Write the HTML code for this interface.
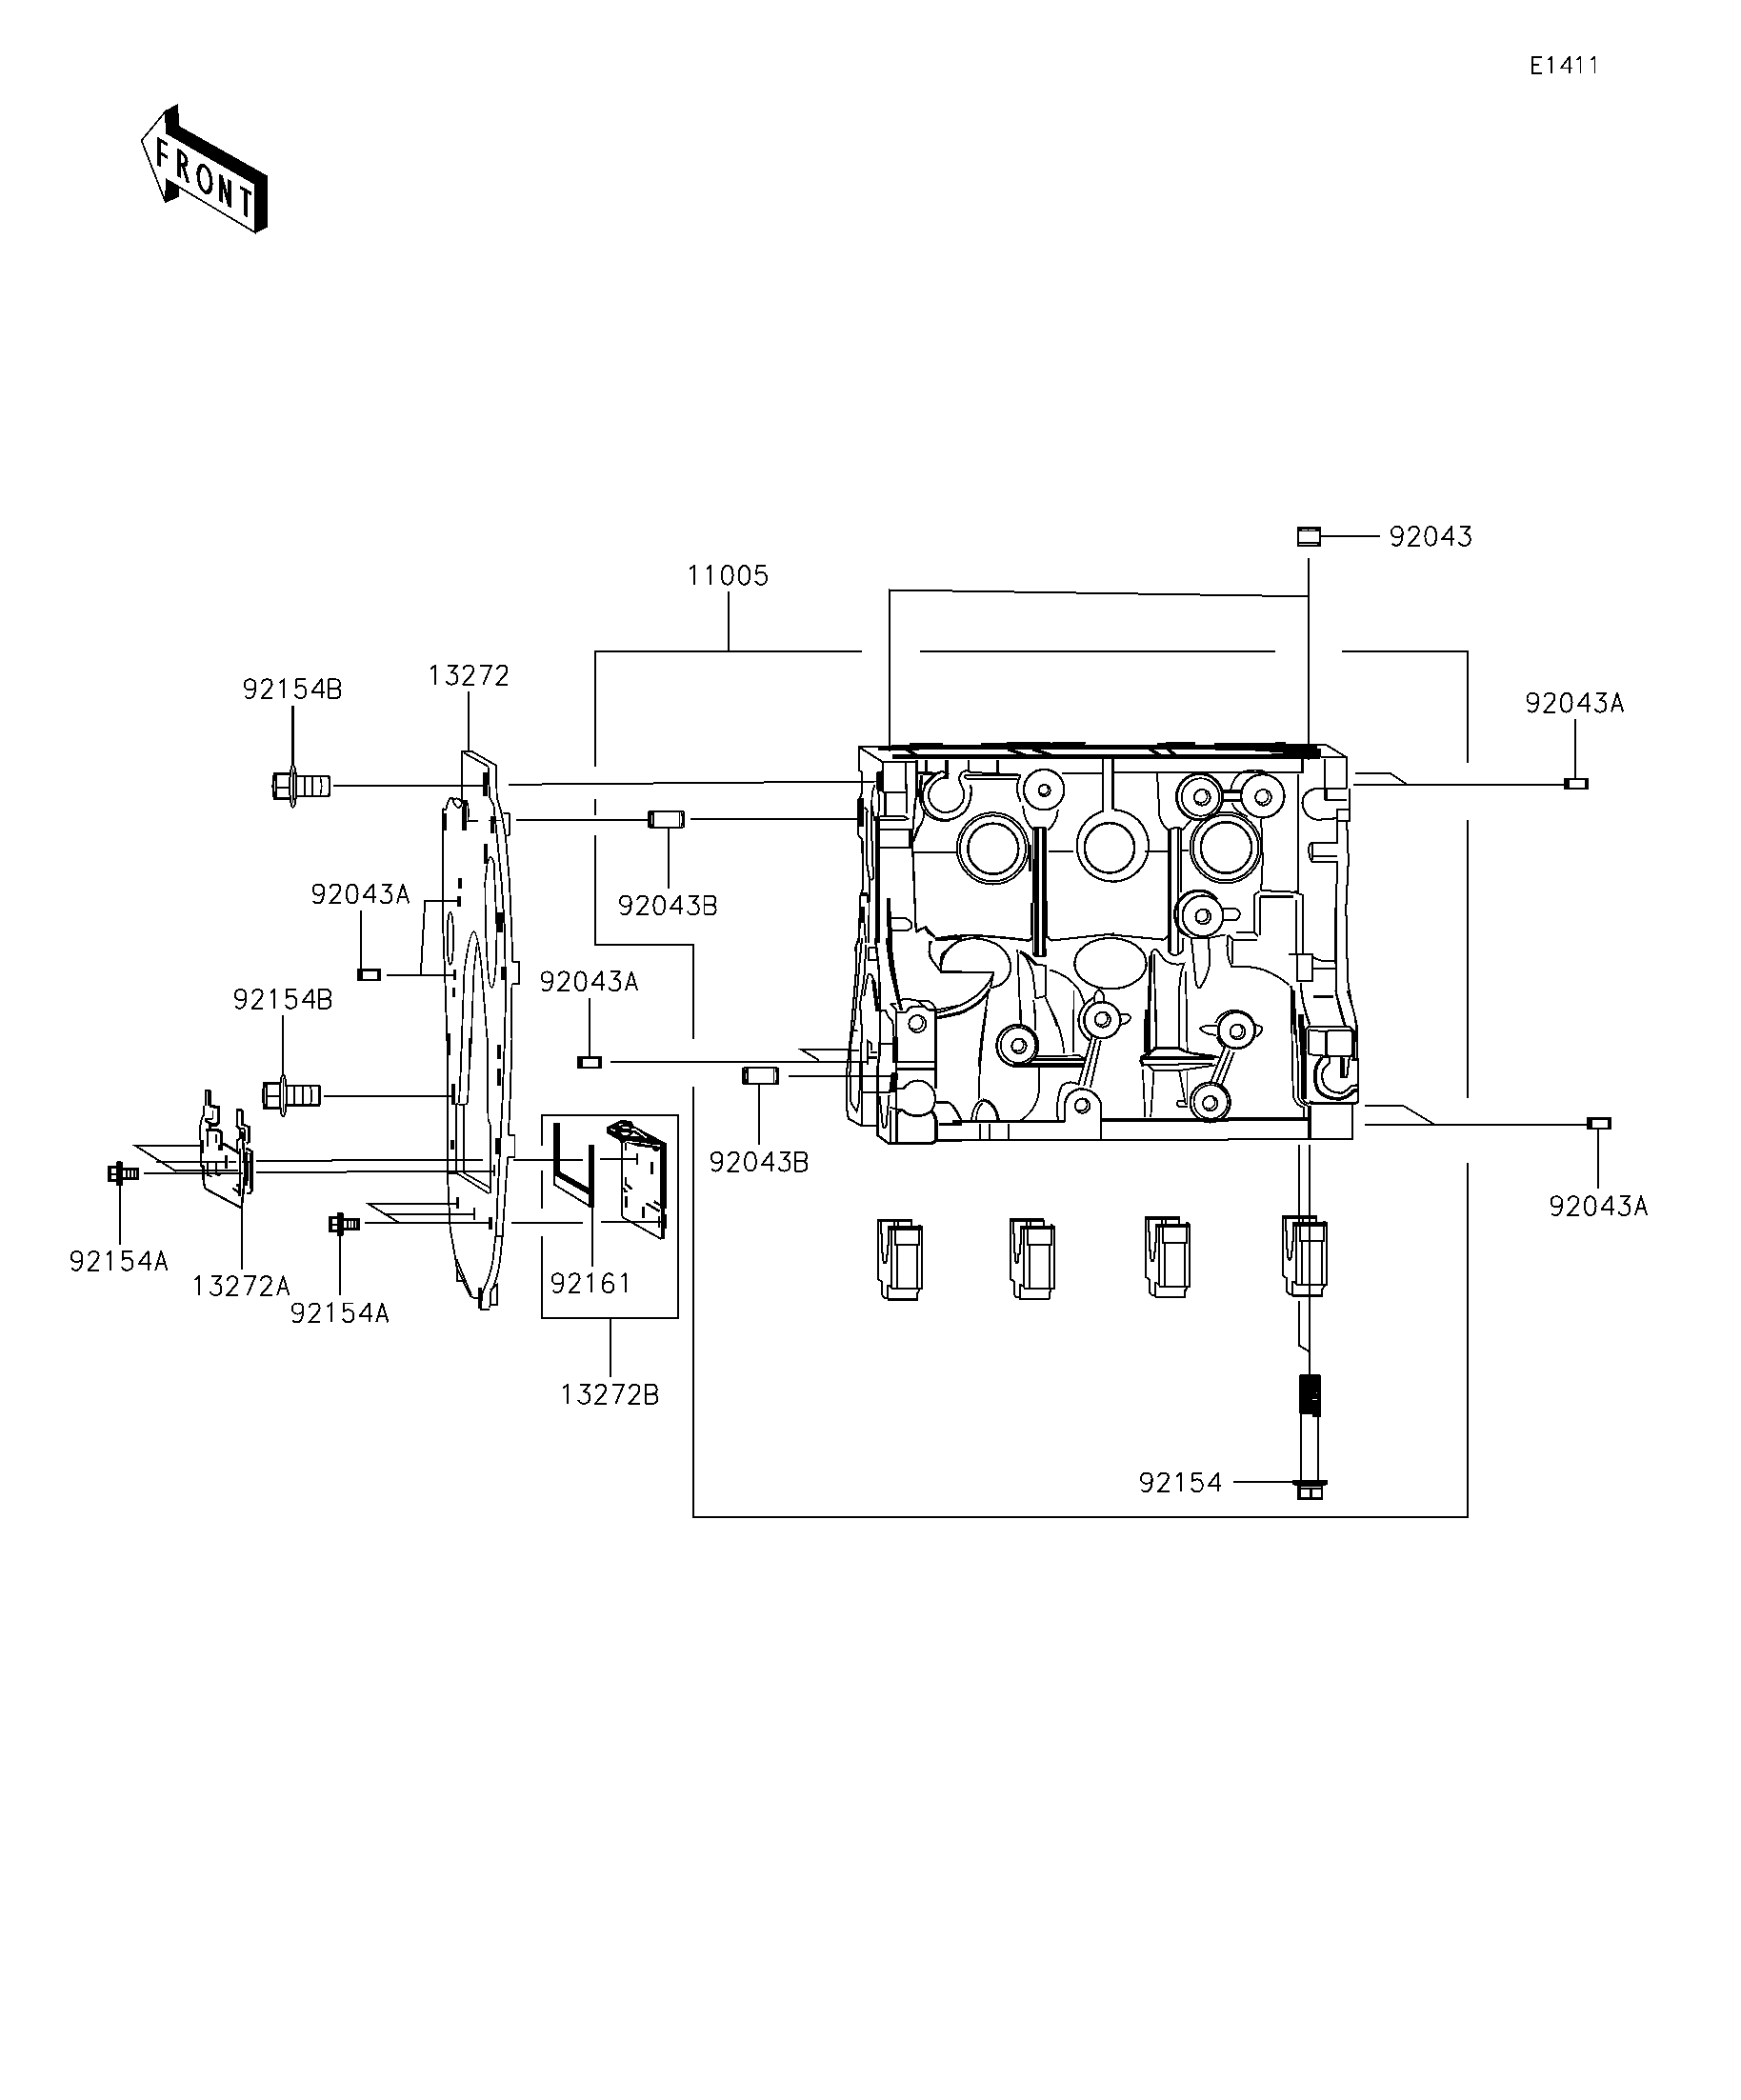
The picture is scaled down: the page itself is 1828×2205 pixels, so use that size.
<!DOCTYPE html>
<html><head><meta charset="utf-8"><title>E1411</title>
<style>html,body{margin:0;padding:0;background:#fff}body{width:1828px;height:2205px;overflow:hidden;font-family:"Liberation Sans",sans-serif}svg{display:block}</style>
</head><body>
<svg width="1828" height="2205" viewBox="0 0 1828 2205" fill="none" stroke="#000" stroke-width="2" stroke-linecap="butt" stroke-linejoin="miter" shape-rendering="crispEdges">
<rect x="0" y="0" width="1828" height="2205" fill="#fff" stroke="none"/>
<g stroke-width="2.05" stroke-linejoin="round"><path transform="translate(1608.9 59.8) scale(0.85)" d="M12,0L0,0L0,20.4L12,20.4M0,9.8L8.5,9.8"/><path transform="translate(1623.93 59.8) scale(0.85)" d="M1.8,3.9L6.4,0L6.4,20.4"/><path transform="translate(1638.96 59.8) scale(0.85)" d="M10.4,20.4L10.4,0L0,13.8L13.6,13.8"/><path transform="translate(1653.99 59.8) scale(0.85)" d="M1.8,3.9L6.4,0L6.4,20.4"/><path transform="translate(1669.02 59.8) scale(0.85)" d="M1.8,3.9L6.4,0L6.4,20.4"/></g>
<g stroke-width="2.05" stroke-linejoin="round"><path transform="translate(1461 553) scale(0.97)" d="M12,6C12,2.5 9.5,0 6,0C2.5,0 0,2.5 0,5.8C0,9 2.5,11.5 6,11.5C9.5,11.5 12,9 12,6C12,13 10.5,20.4 5,20.4C3,20.4 1.5,19.5 0.8,18"/><path transform="translate(1478.7 553) scale(0.97)" d="M0.5,4.6C1,1.6 3,0 6,0C9.5,0 11.5,2 11.5,5C11.5,8 9,10.5 0,20.4L12.3,20.4"/><path transform="translate(1496.4 553) scale(0.97)" d="M6,0C2.2,0 0,4 0,10.2C0,16.4 2.2,20.4 6,20.4C9.8,20.4 12,16.4 12,10.2C12,4 9.8,0 6,0Z"/><path transform="translate(1514.1 553) scale(0.97)" d="M10.4,20.4L10.4,0L0,13.8L13.6,13.8"/><path transform="translate(1531.8 553) scale(0.97)" d="M1.5,0L12,0L6,7.6C10,7.6 12.3,10 12.3,14C12.3,18 10,20.4 6,20.4C3,20.4 1,19 0,16.5"/></g>
<g stroke-width="2.05" stroke-linejoin="round"><path transform="translate(722.53 594) scale(0.97)" d="M1.8,3.9L6.4,0L6.4,20.4"/><path transform="translate(740.23 594) scale(0.97)" d="M1.8,3.9L6.4,0L6.4,20.4"/><path transform="translate(757.93 594) scale(0.97)" d="M6,0C2.2,0 0,4 0,10.2C0,16.4 2.2,20.4 6,20.4C9.8,20.4 12,16.4 12,10.2C12,4 9.8,0 6,0Z"/><path transform="translate(775.63 594) scale(0.97)" d="M6,0C2.2,0 0,4 0,10.2C0,16.4 2.2,20.4 6,20.4C9.8,20.4 12,16.4 12,10.2C12,4 9.8,0 6,0Z"/><path transform="translate(793.33 594) scale(0.97)" d="M11.5,0L1.5,0L0.8,9C2,7.8 4,7 6,7C9.5,7 12,9.5 12,13.6C12,17.6 9.5,20.4 6,20.4C3,20.4 1,19 0,16.5"/></g>
<g stroke-width="2.05" stroke-linejoin="round"><path transform="translate(256.75 713.3) scale(0.97)" d="M12,6C12,2.5 9.5,0 6,0C2.5,0 0,2.5 0,5.8C0,9 2.5,11.5 6,11.5C9.5,11.5 12,9 12,6C12,13 10.5,20.4 5,20.4C3,20.4 1.5,19.5 0.8,18"/><path transform="translate(274.45 713.3) scale(0.97)" d="M0.5,4.6C1,1.6 3,0 6,0C9.5,0 11.5,2 11.5,5C11.5,8 9,10.5 0,20.4L12.3,20.4"/><path transform="translate(292.15 713.3) scale(0.97)" d="M1.8,3.9L6.4,0L6.4,20.4"/><path transform="translate(309.85 713.3) scale(0.97)" d="M11.5,0L1.5,0L0.8,9C2,7.8 4,7 6,7C9.5,7 12,9.5 12,13.6C12,17.6 9.5,20.4 6,20.4C3,20.4 1,19 0,16.5"/><path transform="translate(327.55 713.3) scale(0.97)" d="M10.4,20.4L10.4,0L0,13.8L13.6,13.8"/><path transform="translate(345.25 713.3) scale(0.97)" d="M0,20.4L0,0L7,0C10.5,0 12,2 12,5C12,8 10.5,9.8 7,9.8L0,9.8M7,9.8C11,9.8 12.5,12 12.5,15C12.5,18.5 11,20.4 7,20.4L0,20.4"/></g>
<g stroke-width="2.05" stroke-linejoin="round"><path transform="translate(450.58 698.8) scale(0.97)" d="M1.8,3.9L6.4,0L6.4,20.4"/><path transform="translate(468.28 698.8) scale(0.97)" d="M1.5,0L12,0L6,7.6C10,7.6 12.3,10 12.3,14C12.3,18 10,20.4 6,20.4C3,20.4 1,19 0,16.5"/><path transform="translate(485.98 698.8) scale(0.97)" d="M0.5,4.6C1,1.6 3,0 6,0C9.5,0 11.5,2 11.5,5C11.5,8 9,10.5 0,20.4L12.3,20.4"/><path transform="translate(503.68 698.8) scale(0.97)" d="M0,0L12.5,0L4,20.4"/><path transform="translate(521.38 698.8) scale(0.97)" d="M0.5,4.6C1,1.6 3,0 6,0C9.5,0 11.5,2 11.5,5C11.5,8 9,10.5 0,20.4L12.3,20.4"/></g>
<g stroke-width="2.05" stroke-linejoin="round"><path transform="translate(1603.5 727.8) scale(0.97)" d="M12,6C12,2.5 9.5,0 6,0C2.5,0 0,2.5 0,5.8C0,9 2.5,11.5 6,11.5C9.5,11.5 12,9 12,6C12,13 10.5,20.4 5,20.4C3,20.4 1.5,19.5 0.8,18"/><path transform="translate(1621.2 727.8) scale(0.97)" d="M0.5,4.6C1,1.6 3,0 6,0C9.5,0 11.5,2 11.5,5C11.5,8 9,10.5 0,20.4L12.3,20.4"/><path transform="translate(1638.9 727.8) scale(0.97)" d="M6,0C2.2,0 0,4 0,10.2C0,16.4 2.2,20.4 6,20.4C9.8,20.4 12,16.4 12,10.2C12,4 9.8,0 6,0Z"/><path transform="translate(1656.6 727.8) scale(0.97)" d="M10.4,20.4L10.4,0L0,13.8L13.6,13.8"/><path transform="translate(1674.3 727.8) scale(0.97)" d="M1.5,0L12,0L6,7.6C10,7.6 12.3,10 12.3,14C12.3,18 10,20.4 6,20.4C3,20.4 1,19 0,16.5"/><path transform="translate(1692 727.8) scale(0.97)" d="M0,20.4L6.2,0L12.5,20.4M2.2,13.6L10.3,13.6"/></g>
<g stroke-width="2.05" stroke-linejoin="round"><path transform="translate(328.5 928.6) scale(0.97)" d="M12,6C12,2.5 9.5,0 6,0C2.5,0 0,2.5 0,5.8C0,9 2.5,11.5 6,11.5C9.5,11.5 12,9 12,6C12,13 10.5,20.4 5,20.4C3,20.4 1.5,19.5 0.8,18"/><path transform="translate(346.2 928.6) scale(0.97)" d="M0.5,4.6C1,1.6 3,0 6,0C9.5,0 11.5,2 11.5,5C11.5,8 9,10.5 0,20.4L12.3,20.4"/><path transform="translate(363.9 928.6) scale(0.97)" d="M6,0C2.2,0 0,4 0,10.2C0,16.4 2.2,20.4 6,20.4C9.8,20.4 12,16.4 12,10.2C12,4 9.8,0 6,0Z"/><path transform="translate(381.6 928.6) scale(0.97)" d="M10.4,20.4L10.4,0L0,13.8L13.6,13.8"/><path transform="translate(399.3 928.6) scale(0.97)" d="M1.5,0L12,0L6,7.6C10,7.6 12.3,10 12.3,14C12.3,18 10,20.4 6,20.4C3,20.4 1,19 0,16.5"/><path transform="translate(417 928.6) scale(0.97)" d="M0,20.4L6.2,0L12.5,20.4M2.2,13.6L10.3,13.6"/></g>
<g stroke-width="2.05" stroke-linejoin="round"><path transform="translate(651 940.6) scale(0.97)" d="M12,6C12,2.5 9.5,0 6,0C2.5,0 0,2.5 0,5.8C0,9 2.5,11.5 6,11.5C9.5,11.5 12,9 12,6C12,13 10.5,20.4 5,20.4C3,20.4 1.5,19.5 0.8,18"/><path transform="translate(668.7 940.6) scale(0.97)" d="M0.5,4.6C1,1.6 3,0 6,0C9.5,0 11.5,2 11.5,5C11.5,8 9,10.5 0,20.4L12.3,20.4"/><path transform="translate(686.4 940.6) scale(0.97)" d="M6,0C2.2,0 0,4 0,10.2C0,16.4 2.2,20.4 6,20.4C9.8,20.4 12,16.4 12,10.2C12,4 9.8,0 6,0Z"/><path transform="translate(704.1 940.6) scale(0.97)" d="M10.4,20.4L10.4,0L0,13.8L13.6,13.8"/><path transform="translate(721.8 940.6) scale(0.97)" d="M1.5,0L12,0L6,7.6C10,7.6 12.3,10 12.3,14C12.3,18 10,20.4 6,20.4C3,20.4 1,19 0,16.5"/><path transform="translate(739.5 940.6) scale(0.97)" d="M0,20.4L0,0L7,0C10.5,0 12,2 12,5C12,8 10.5,9.8 7,9.8L0,9.8M7,9.8C11,9.8 12.5,12 12.5,15C12.5,18.5 11,20.4 7,20.4L0,20.4"/></g>
<g stroke-width="2.05" stroke-linejoin="round"><path transform="translate(568.5 1020.4) scale(0.97)" d="M12,6C12,2.5 9.5,0 6,0C2.5,0 0,2.5 0,5.8C0,9 2.5,11.5 6,11.5C9.5,11.5 12,9 12,6C12,13 10.5,20.4 5,20.4C3,20.4 1.5,19.5 0.8,18"/><path transform="translate(586.2 1020.4) scale(0.97)" d="M0.5,4.6C1,1.6 3,0 6,0C9.5,0 11.5,2 11.5,5C11.5,8 9,10.5 0,20.4L12.3,20.4"/><path transform="translate(603.9 1020.4) scale(0.97)" d="M6,0C2.2,0 0,4 0,10.2C0,16.4 2.2,20.4 6,20.4C9.8,20.4 12,16.4 12,10.2C12,4 9.8,0 6,0Z"/><path transform="translate(621.6 1020.4) scale(0.97)" d="M10.4,20.4L10.4,0L0,13.8L13.6,13.8"/><path transform="translate(639.3 1020.4) scale(0.97)" d="M1.5,0L12,0L6,7.6C10,7.6 12.3,10 12.3,14C12.3,18 10,20.4 6,20.4C3,20.4 1,19 0,16.5"/><path transform="translate(657 1020.4) scale(0.97)" d="M0,20.4L6.2,0L12.5,20.4M2.2,13.6L10.3,13.6"/></g>
<g stroke-width="2.05" stroke-linejoin="round"><path transform="translate(246.75 1039) scale(0.97)" d="M12,6C12,2.5 9.5,0 6,0C2.5,0 0,2.5 0,5.8C0,9 2.5,11.5 6,11.5C9.5,11.5 12,9 12,6C12,13 10.5,20.4 5,20.4C3,20.4 1.5,19.5 0.8,18"/><path transform="translate(264.45 1039) scale(0.97)" d="M0.5,4.6C1,1.6 3,0 6,0C9.5,0 11.5,2 11.5,5C11.5,8 9,10.5 0,20.4L12.3,20.4"/><path transform="translate(282.15 1039) scale(0.97)" d="M1.8,3.9L6.4,0L6.4,20.4"/><path transform="translate(299.85 1039) scale(0.97)" d="M11.5,0L1.5,0L0.8,9C2,7.8 4,7 6,7C9.5,7 12,9.5 12,13.6C12,17.6 9.5,20.4 6,20.4C3,20.4 1,19 0,16.5"/><path transform="translate(317.55 1039) scale(0.97)" d="M10.4,20.4L10.4,0L0,13.8L13.6,13.8"/><path transform="translate(335.25 1039) scale(0.97)" d="M0,20.4L0,0L7,0C10.5,0 12,2 12,5C12,8 10.5,9.8 7,9.8L0,9.8M7,9.8C11,9.8 12.5,12 12.5,15C12.5,18.5 11,20.4 7,20.4L0,20.4"/></g>
<g stroke-width="2.05" stroke-linejoin="round"><path transform="translate(746.75 1209.8) scale(0.97)" d="M12,6C12,2.5 9.5,0 6,0C2.5,0 0,2.5 0,5.8C0,9 2.5,11.5 6,11.5C9.5,11.5 12,9 12,6C12,13 10.5,20.4 5,20.4C3,20.4 1.5,19.5 0.8,18"/><path transform="translate(764.45 1209.8) scale(0.97)" d="M0.5,4.6C1,1.6 3,0 6,0C9.5,0 11.5,2 11.5,5C11.5,8 9,10.5 0,20.4L12.3,20.4"/><path transform="translate(782.15 1209.8) scale(0.97)" d="M6,0C2.2,0 0,4 0,10.2C0,16.4 2.2,20.4 6,20.4C9.8,20.4 12,16.4 12,10.2C12,4 9.8,0 6,0Z"/><path transform="translate(799.85 1209.8) scale(0.97)" d="M10.4,20.4L10.4,0L0,13.8L13.6,13.8"/><path transform="translate(817.55 1209.8) scale(0.97)" d="M1.5,0L12,0L6,7.6C10,7.6 12.3,10 12.3,14C12.3,18 10,20.4 6,20.4C3,20.4 1,19 0,16.5"/><path transform="translate(835.25 1209.8) scale(0.97)" d="M0,20.4L0,0L7,0C10.5,0 12,2 12,5C12,8 10.5,9.8 7,9.8L0,9.8M7,9.8C11,9.8 12.5,12 12.5,15C12.5,18.5 11,20.4 7,20.4L0,20.4"/></g>
<g stroke-width="2.05" stroke-linejoin="round"><path transform="translate(1628.5 1256.2) scale(0.97)" d="M12,6C12,2.5 9.5,0 6,0C2.5,0 0,2.5 0,5.8C0,9 2.5,11.5 6,11.5C9.5,11.5 12,9 12,6C12,13 10.5,20.4 5,20.4C3,20.4 1.5,19.5 0.8,18"/><path transform="translate(1646.2 1256.2) scale(0.97)" d="M0.5,4.6C1,1.6 3,0 6,0C9.5,0 11.5,2 11.5,5C11.5,8 9,10.5 0,20.4L12.3,20.4"/><path transform="translate(1663.9 1256.2) scale(0.97)" d="M6,0C2.2,0 0,4 0,10.2C0,16.4 2.2,20.4 6,20.4C9.8,20.4 12,16.4 12,10.2C12,4 9.8,0 6,0Z"/><path transform="translate(1681.6 1256.2) scale(0.97)" d="M10.4,20.4L10.4,0L0,13.8L13.6,13.8"/><path transform="translate(1699.3 1256.2) scale(0.97)" d="M1.5,0L12,0L6,7.6C10,7.6 12.3,10 12.3,14C12.3,18 10,20.4 6,20.4C3,20.4 1,19 0,16.5"/><path transform="translate(1717 1256.2) scale(0.97)" d="M0,20.4L6.2,0L12.5,20.4M2.2,13.6L10.3,13.6"/></g>
<g stroke-width="2.05" stroke-linejoin="round"><path transform="translate(74.75 1314) scale(0.97)" d="M12,6C12,2.5 9.5,0 6,0C2.5,0 0,2.5 0,5.8C0,9 2.5,11.5 6,11.5C9.5,11.5 12,9 12,6C12,13 10.5,20.4 5,20.4C3,20.4 1.5,19.5 0.8,18"/><path transform="translate(92.45 1314) scale(0.97)" d="M0.5,4.6C1,1.6 3,0 6,0C9.5,0 11.5,2 11.5,5C11.5,8 9,10.5 0,20.4L12.3,20.4"/><path transform="translate(110.15 1314) scale(0.97)" d="M1.8,3.9L6.4,0L6.4,20.4"/><path transform="translate(127.85 1314) scale(0.97)" d="M11.5,0L1.5,0L0.8,9C2,7.8 4,7 6,7C9.5,7 12,9.5 12,13.6C12,17.6 9.5,20.4 6,20.4C3,20.4 1,19 0,16.5"/><path transform="translate(145.55 1314) scale(0.97)" d="M10.4,20.4L10.4,0L0,13.8L13.6,13.8"/><path transform="translate(163.25 1314) scale(0.97)" d="M0,20.4L6.2,0L12.5,20.4M2.2,13.6L10.3,13.6"/></g>
<g stroke-width="2.05" stroke-linejoin="round"><path transform="translate(202.78 1340.2) scale(0.97)" d="M1.8,3.9L6.4,0L6.4,20.4"/><path transform="translate(220.48 1340.2) scale(0.97)" d="M1.5,0L12,0L6,7.6C10,7.6 12.3,10 12.3,14C12.3,18 10,20.4 6,20.4C3,20.4 1,19 0,16.5"/><path transform="translate(238.18 1340.2) scale(0.97)" d="M0.5,4.6C1,1.6 3,0 6,0C9.5,0 11.5,2 11.5,5C11.5,8 9,10.5 0,20.4L12.3,20.4"/><path transform="translate(255.88 1340.2) scale(0.97)" d="M0,0L12.5,0L4,20.4"/><path transform="translate(273.58 1340.2) scale(0.97)" d="M0.5,4.6C1,1.6 3,0 6,0C9.5,0 11.5,2 11.5,5C11.5,8 9,10.5 0,20.4L12.3,20.4"/><path transform="translate(291.28 1340.2) scale(0.97)" d="M0,20.4L6.2,0L12.5,20.4M2.2,13.6L10.3,13.6"/></g>
<g stroke-width="2.05" stroke-linejoin="round"><path transform="translate(306.75 1368.5) scale(0.97)" d="M12,6C12,2.5 9.5,0 6,0C2.5,0 0,2.5 0,5.8C0,9 2.5,11.5 6,11.5C9.5,11.5 12,9 12,6C12,13 10.5,20.4 5,20.4C3,20.4 1.5,19.5 0.8,18"/><path transform="translate(324.45 1368.5) scale(0.97)" d="M0.5,4.6C1,1.6 3,0 6,0C9.5,0 11.5,2 11.5,5C11.5,8 9,10.5 0,20.4L12.3,20.4"/><path transform="translate(342.15 1368.5) scale(0.97)" d="M1.8,3.9L6.4,0L6.4,20.4"/><path transform="translate(359.85 1368.5) scale(0.97)" d="M11.5,0L1.5,0L0.8,9C2,7.8 4,7 6,7C9.5,7 12,9.5 12,13.6C12,17.6 9.5,20.4 6,20.4C3,20.4 1,19 0,16.5"/><path transform="translate(377.55 1368.5) scale(0.97)" d="M10.4,20.4L10.4,0L0,13.8L13.6,13.8"/><path transform="translate(395.25 1368.5) scale(0.97)" d="M0,20.4L6.2,0L12.5,20.4M2.2,13.6L10.3,13.6"/></g>
<g stroke-width="2.05" stroke-linejoin="round"><path transform="translate(579.75 1337.3) scale(0.97)" d="M12,6C12,2.5 9.5,0 6,0C2.5,0 0,2.5 0,5.8C0,9 2.5,11.5 6,11.5C9.5,11.5 12,9 12,6C12,13 10.5,20.4 5,20.4C3,20.4 1.5,19.5 0.8,18"/><path transform="translate(597.45 1337.3) scale(0.97)" d="M0.5,4.6C1,1.6 3,0 6,0C9.5,0 11.5,2 11.5,5C11.5,8 9,10.5 0,20.4L12.3,20.4"/><path transform="translate(615.15 1337.3) scale(0.97)" d="M1.8,3.9L6.4,0L6.4,20.4"/><path transform="translate(632.85 1337.3) scale(0.97)" d="M11,2.6C10,0.8 8.5,0 6.5,0C2,0 0,6 0,14C0,18 2.5,20.4 6,20.4C9.5,20.4 12,18 12,14.5C12,11 9.5,8.8 6,8.8C2.5,8.8 0,11 0,14"/><path transform="translate(650.55 1337.3) scale(0.97)" d="M1.8,3.9L6.4,0L6.4,20.4"/></g>
<g stroke-width="2.05" stroke-linejoin="round"><path transform="translate(589.53 1454) scale(0.97)" d="M1.8,3.9L6.4,0L6.4,20.4"/><path transform="translate(607.23 1454) scale(0.97)" d="M1.5,0L12,0L6,7.6C10,7.6 12.3,10 12.3,14C12.3,18 10,20.4 6,20.4C3,20.4 1,19 0,16.5"/><path transform="translate(624.93 1454) scale(0.97)" d="M0.5,4.6C1,1.6 3,0 6,0C9.5,0 11.5,2 11.5,5C11.5,8 9,10.5 0,20.4L12.3,20.4"/><path transform="translate(642.63 1454) scale(0.97)" d="M0,0L12.5,0L4,20.4"/><path transform="translate(660.33 1454) scale(0.97)" d="M0.5,4.6C1,1.6 3,0 6,0C9.5,0 11.5,2 11.5,5C11.5,8 9,10.5 0,20.4L12.3,20.4"/><path transform="translate(678.03 1454) scale(0.97)" d="M0,20.4L0,0L7,0C10.5,0 12,2 12,5C12,8 10.5,9.8 7,9.8L0,9.8M7,9.8C11,9.8 12.5,12 12.5,15C12.5,18.5 11,20.4 7,20.4L0,20.4"/></g>
<g stroke-width="2.05" stroke-linejoin="round"><path transform="translate(1198 1546.6) scale(0.97)" d="M12,6C12,2.5 9.5,0 6,0C2.5,0 0,2.5 0,5.8C0,9 2.5,11.5 6,11.5C9.5,11.5 12,9 12,6C12,13 10.5,20.4 5,20.4C3,20.4 1.5,19.5 0.8,18"/><path transform="translate(1215.7 1546.6) scale(0.97)" d="M0.5,4.6C1,1.6 3,0 6,0C9.5,0 11.5,2 11.5,5C11.5,8 9,10.5 0,20.4L12.3,20.4"/><path transform="translate(1233.4 1546.6) scale(0.97)" d="M1.8,3.9L6.4,0L6.4,20.4"/><path transform="translate(1251.1 1546.6) scale(0.97)" d="M11.5,0L1.5,0L0.8,9C2,7.8 4,7 6,7C9.5,7 12,9.5 12,13.6C12,17.6 9.5,20.4 6,20.4C3,20.4 1,19 0,16.5"/><path transform="translate(1268.8 1546.6) scale(0.97)" d="M10.4,20.4L10.4,0L0,13.8L13.6,13.8"/></g>
<path d="M764.5,620.5 L764.5,683.75"/>
<path d="M624.5,804.5 L624.5,683.75 L904.5,683.75"/>
<path d="M966.25,683.75 L1338.75,683.75"/>
<path d="M1409.25,683.75 L1540.5,683.75 L1540.5,800.5"/>
<path d="M624.5,838.75 L624.5,856.25"/>
<path d="M624.5,877 L624.5,992 L728.25,992 L728.25,1090.5"/>
<path d="M728.25,1140.5 L728.25,1593 L1540.5,1593 L1540.5,1220.5"/>
<path d="M1540.5,861.25 L1540.5,1152.5"/>
<rect x="1362.1" y="553.1" width="24.9" height="20.8" fill="#000" stroke="none"/>
<rect x="1363.8" y="557.9" width="21.3" height="11.2" fill="#fff" stroke="none"/>
<path d="M1366.9,556.4H1372.9M1374.1,556.4H1381" stroke="#fff" stroke-width="1.1"/>
<rect x="1363.8" y="570.8" width="19.2" height="1.4" fill="#fff" stroke="none"/>
<path d="M1386.5,563 L1448.75,563"/>
<path d="M1373.75,585.5 L1373.75,782.5"/>
<path d="M933.75,788.75 L933.75,619.5 L1373.75,626.25"/>
<path d="M1653.75,754.5 L1653.75,817.5"/>
<rect x="1642" y="816.6" width="26" height="12.6" fill="#000" stroke="none"/>
<rect x="1647.6" y="819.4" width="16.6" height="7.9" fill="#fff" stroke="none"/>
<path d="M1421.25,823.75 L1642.5,823.75"/>
<path d="M1423,811.75 L1459.25,811.75 L1476.75,823.25"/>
<path d="M1678,1185 L1678,1248"/>
<rect x="1666.3" y="1173" width="25.6" height="12.6" fill="#000" stroke="none"/>
<rect x="1671.9" y="1175.8" width="16.2" height="7.9" fill="#fff" stroke="none"/>
<path d="M1433.25,1180.75 L1666.75,1180.75"/>
<path d="M1433.25,1160.5 L1472.5,1160.5 L1506.25,1180.75"/>
<path d="M379.25,955.75 L379.25,1017.5"/>
<rect x="375" y="1017.2" width="25.2" height="12.7" fill="#000" stroke="none"/>
<rect x="380.6" y="1020" width="15.8" height="8" fill="#fff" stroke="none"/>
<path d="M405.5,1024 L478,1024"/>
<path d="M441.75,1024 L446.25,945.75 L481.25,945.75"/>
<path d="M619.25,1047.5 L619.25,1109.25"/>
<rect x="606.2" y="1109" width="25.8" height="12.9" fill="#000" stroke="none"/>
<rect x="611.8" y="1111.8" width="16.4" height="8.2" fill="#fff" stroke="none"/>
<path d="M641.25,1115 L830,1115 L910.5,1114.6"/>
<path d="M901.8,1102.6 L841.25,1102 L860,1113.25"/>
<rect x="681.1" y="852.1" width="36.8" height="16.6" rx="1.2" stroke-width="2"/>
<path d="M686.1,851.1 L686.1,869.7" stroke-width="1.7"/>
<path d="M713.3,851.1 L713.3,869.7" stroke-width="1.5"/>
<path d="M681.4,852.1 L681.4,868.7" stroke-width="2.6"/>
<path d="M684.1,853.1 q-1.6,7.3 0,14.6 M715.7,853.1 q1.8,7.3 0,14.6" stroke-width="1.4"/>
<path d="M542,860.7 L680,860.5"/>
<path d="M725,860 L901.25,860"/>
<path d="M701.75,869.25 L701.75,932.5"/>
<rect x="780.3" y="1121.4" width="36.7" height="17" rx="1.2" stroke-width="2"/>
<path d="M785.3,1120.4 L785.3,1139.4" stroke-width="1.7"/>
<path d="M812.4,1120.4 L812.4,1139.4" stroke-width="1.5"/>
<path d="M780.6,1121.4 L780.6,1138.4" stroke-width="2.6"/>
<path d="M783.3,1122.4 q-1.6,7.5 0,15 M814.8,1122.4 q1.8,7.5 0,15" stroke-width="1.4"/>
<path d="M797,1139.25 L797,1202"/>
<path d="M828,1129.5 L934.6,1130"/>
<path d="M304,812.5 H288.1 Q285.6,825.5 288.1,838.5 H304" stroke-width="2.8"/>
<path d="M290.2,812.5 L290.2,838.5" stroke-width="1.8"/>
<path d="M289.6,826.5 L304,826.5" stroke-width="2"/>
<ellipse cx="307.7" cy="825.5" rx="3.5" ry="22.2" stroke-width="1.9"/>
<ellipse cx="307.9" cy="825.5" rx="0.4" ry="17.7" stroke-width="1"/>
<path d="M311.5,815 H343.6 Q346,815 346,818 V833 Q346,836 343.6,836 H311.5" stroke-width="2.8"/>
<path d="M319.75,815 L319.75,836" stroke-width="1.9"/>
<path d="M328,815 L328,836" stroke-width="1.9"/>
<path d="M336.07,815 q3.2,10.5 0,21" stroke-width="1.7"/>
<path d="M293.6,1137.4 H277.7 Q275.2,1150.4 277.7,1163.4 H293.6" stroke-width="2.8"/>
<path d="M279.8,1137.4 L279.8,1163.4" stroke-width="1.8"/>
<path d="M279.2,1151.4 L293.6,1151.4" stroke-width="2"/>
<ellipse cx="297.3" cy="1150.4" rx="3.5" ry="22" stroke-width="1.9"/>
<ellipse cx="297.5" cy="1150.4" rx="0.4" ry="17.5" stroke-width="1"/>
<path d="M301.1,1140 H333.3 Q335.7,1140 335.7,1143 V1157.8 Q335.7,1160.8 333.3,1160.8 H301.1" stroke-width="2.8"/>
<path d="M309.37,1140 L309.37,1160.8" stroke-width="1.9"/>
<path d="M317.64,1140 L317.64,1160.8" stroke-width="1.9"/>
<path d="M325.74,1140 q3.2,10.4 0,20.8" stroke-width="1.7"/>
<path d="M307.5,740.75 L307.5,803.75" stroke-width="2.8"/>
<path d="M297,1065.75 L297,1128.75" stroke-width="2.6"/>
<path d="M350,824.5 L507.5,824.5"/>
<path d="M534,823.8 L920,820.5"/>
<path d="M339.5,1150.5 L475,1150.5"/>
<path d="M123,1225.3 H114.5 V1239.5 H123" stroke-width="2.9" stroke-linejoin="round"/>
<path d="M115.7,1225.3 L115.7,1239.5" stroke-width="2.4"/>
<path d="M114.5,1232.8 L123,1232.8" stroke-width="1.9"/>
<rect x="122.2" y="1219.8" width="6.5" height="25.2" rx="2.6" fill="#000" stroke-width="1"/>
<path d="M128.7,1227.4 H145 V1237.4 H128.7" stroke-width="2.2"/>
<path d="M144,1227.4 L144,1237.4" stroke-width="2.4"/>
<path d="M133.03,1228.4 L133.03,1236.4" stroke-width="1.8"/>
<path d="M136.86,1228.4 L136.86,1236.4" stroke-width="1.8"/>
<path d="M140.69,1228.4 L140.69,1236.4" stroke-width="1.8"/>
<path d="M355,1278.1 H346.6 V1292.7 H355" stroke-width="2.9" stroke-linejoin="round"/>
<path d="M347.8,1278.1 L347.8,1292.7" stroke-width="2.4"/>
<path d="M346.6,1285.8 L355,1285.8" stroke-width="1.9"/>
<rect x="354" y="1273" width="6.4" height="24.8" rx="2.6" fill="#000" stroke-width="1"/>
<path d="M360.4,1280.4 H376.6 V1290.4 H360.4" stroke-width="2.2"/>
<path d="M375.6,1280.4 L375.6,1290.4" stroke-width="2.4"/>
<path d="M364.71,1281.4 L364.71,1289.4" stroke-width="1.8"/>
<path d="M368.51,1281.4 L368.51,1289.4" stroke-width="1.8"/>
<path d="M372.32,1281.4 L372.32,1289.4" stroke-width="1.8"/>
<path d="M125.75,1244.5 L125.75,1307"/>
<path d="M356.75,1297.5 L356.75,1360"/>
<path d="M254,1268.3 L254,1332.5" stroke-width="2.4"/>
<path d="M210,1203.25 L142.5,1203.25 L185,1230"/>
<path d="M163.75,1220 L236.3,1220" stroke-width="2.2"/>
<path d="M240,1220 L247.7,1220"/>
<path d="M254.3,1220 L261.7,1220"/>
<path d="M151.25,1231.8 L255.3,1231.8" stroke-width="2.2"/>
<path d="M185,1229 L249.7,1229" stroke-width="1.6"/>
<path d="M269,1219 L507.5,1217.5"/>
<path d="M269,1231 L518.3,1229.7"/>
<path d="M481.25,1263.75 L386.25,1263.75 L420,1284.5"/>
<path d="M481.25,1257.5 L481.25,1269"/>
<path d="M404.5,1275 L498,1274.5"/>
<path d="M383.25,1284.5 L515,1284.3"/>
<path d="M568.7,1202.5 L568.7,1170.8 L712.3,1170.8 L712.3,1383.6 L568.7,1383.6 L568.7,1298.3"/>
<path d="M568.7,1229.2 L568.7,1268.7"/>
<path d="M640.6,1383.6 L640.6,1446.25"/>
<path d="M621.7,1267.5 L621.7,1329.5"/>
<path d="M539.2,1217.5 L611.7,1217.5"/>
<path d="M630,1216.7 L669,1216.7"/>
<path d="M537.2,1283.8 L611.7,1283.8"/>
<path d="M630.8,1283.4 L694,1283.4"/>
<path d="M584.4,1179.2V1231.7L620.9,1252.5" stroke-width="6.2"/>
<path d="M621,1202 L621,1267.5" stroke-width="5.6"/>
<path d="M581.7,1231.7 L581.7,1243.5 L620.8,1267.5"/>
<path d="M1294.5,1555.75 L1358.75,1555.75"/>
<path d="M1356.9,1554.2 H1394.1 V1558.6 L1389,1560.6 H1362 L1356.9,1558.6 Z" fill="#000" stroke="none"/>
<path d="M1364,1560 L1364,1574.8" stroke-width="3.8"/>
<path d="M1362.1,1573.5 L1388.8,1573.5" stroke-width="2.6"/>
<path d="M1387.8,1560 L1387.8,1574.8" stroke-width="2"/>
<path d="M1376.3,1561 L1376.3,1574" stroke-width="2.6"/>
<path d="M1366,1562.6 L1387,1562.6" stroke-width="2.2"/>
<path d="M1366,1561.2H1371M1372.2,1561.2H1386" stroke="#fff" stroke-width="0.9"/>
<path d="M1365.9,1485 L1365.9,1555" stroke-width="1.9"/>
<path d="M1384,1485 L1384,1555" stroke-width="1.9"/>
<rect x="1364" y="1443" width="23" height="42" rx="2.5" fill="#000" stroke="none"/>
<rect x="1378" y="1484" width="8.5" height="4" fill="#000" stroke="none"/>
<path d="M1378,1469.5h5.2M1382,1462.5h1.2" stroke="#fff" stroke-width="1"/>
<path d="M1375,1202 L1375,1444"/>
<path d="M1363.75,1202 L1363.75,1277"/>
<path d="M1363.75,1365.75 L1363.75,1412.5 L1375,1419.25"/>
<path d="M491.8,725.8 L491.8,788.5"/>
<path d="M173.9,116.9L186.6,109.5L187.6,132.5L280.9,185.2L280.9,237.9L268.2,244.3L267.7,193L174.9,139.8Z" fill="#000" stroke-width="1"/>
<path d="M174.9,188.6L187.6,196.4L187.6,206.2L173.9,212.5Z" fill="#000" stroke-width="1"/>
<path d="M148.6,147.6L173.9,116.9L174.9,139.8L267.7,193L268.2,244.3L174.9,188.6L173.9,212.5Z" fill="#fff" stroke-width="1.8" stroke-linejoin="miter"/>
<g transform="matrix(1,0.585,0,1,0,-96.5)" stroke-width="3.7" stroke-linejoin="miter"><path d="M167,173.2V145.4L175.9,145.4M167,158.8H175.5"/><path d="M188,172.6V144.8C198,143 198.5,158 188.5,158.5M192.5,158.8L197.5,172.8"/><path d="M215,145.2C206,145.2 206,172.2 215,172.2C224,172.2 224,145.2 215,145.2Z"/><path d="M232,172.6V144.6L241,172.6V144.6"/><path d="M252.3,145.6H263.8M258,145.6V172.8"/></g>
<path d="M 921.1 1281.6 H 957.75" stroke-width="3.3"/>
<path d="M 956.9 1281 V 1287.25" stroke-width="2"/>
<path d="M 922 1280 V 1343.25 L 926 1346 V 1359.5 L 928.5 1362.6 H 931.25" stroke-width="2"/>
<path d="M 925 1283.25 V 1295.5 L 925.9 1296.25 V 1315.25 L 926.9 1315.75 V 1322.5 L 928.25 1326.25 H 929.75 L 930.75 1323.75 V 1317.5 L 932.25 1317 V 1307.5 L 933.1 1307 V 1287.25" stroke-width="2"/>
<path d="M 939 1283.25 V 1287.25 M 943 1283.25 V 1287.25" stroke-width="2"/>
<path d="M 932.25 1289.5 H 968.9" stroke-width="4.6"/>
<path d="M 964 1286.75 H 966 L 967.1 1287.6" stroke-width="2"/>
<path d="M 936.1 1290 V 1352.5 M 968.1 1288.5 V 1352.5 M 963.1 1307.25 V 1352.5 M 942 1307.25 V 1352.5" stroke-width="2"/>
<path d="M 940 1291.75 V 1307.1 H 965 V 1291.75" stroke-width="2"/>
<path d="M 936.1 1353.1 H 969" stroke-width="2.2"/>
<path d="M 968.1 1352.5 L 965 1354.1 L 964.25 1357.1 L 963.1 1357.6 V 1364.3" stroke-width="2"/>
<path d="M 931.5 1364.3 H 963.6" stroke-width="2.4"/>
<path d="M 932.1 1364.3 V 1349.5 H 933.5 L 935 1351.1" stroke-width="2"/>
<path d="M 1059.8 1281.1 H 1096.45" stroke-width="3.3"/>
<path d="M 1095.6 1280.5 V 1286.75" stroke-width="2"/>
<path d="M 1060.7 1279.5 V 1342.75 L 1064.7 1345.5 V 1359 L 1067.2 1362.1 H 1069.95" stroke-width="2"/>
<path d="M 1063.7 1282.75 V 1295 L 1064.6 1295.75 V 1314.75 L 1065.6 1315.25 V 1322 L 1066.95 1325.75 H 1068.45 L 1069.45 1323.25 V 1317 L 1070.95 1316.5 V 1307 L 1071.8 1306.5 V 1286.75" stroke-width="2"/>
<path d="M 1077.7 1282.75 V 1286.75 M 1081.7 1282.75 V 1286.75" stroke-width="2"/>
<path d="M 1070.95 1289 H 1107.6" stroke-width="4.6"/>
<path d="M 1102.7 1286.25 H 1104.7 L 1105.8 1287.1" stroke-width="2"/>
<path d="M 1074.8 1289.5 V 1352 M 1106.8 1288 V 1352 M 1101.8 1306.75 V 1352 M 1080.7 1306.75 V 1352" stroke-width="2"/>
<path d="M 1078.7 1291.25 V 1306.6 H 1103.7 V 1291.25" stroke-width="2"/>
<path d="M 1074.8 1352.6 H 1107.7" stroke-width="2.2"/>
<path d="M 1106.8 1352 L 1103.7 1353.6 L 1102.95 1356.6 L 1101.8 1357.1 V 1363.8" stroke-width="2"/>
<path d="M 1070.2 1363.8 H 1102.3" stroke-width="2.4"/>
<path d="M 1070.8 1363.8 V 1349 H 1072.2 L 1073.7 1350.6" stroke-width="2"/>
<path d="M 1202.1 1279.1 H 1238.75" stroke-width="3.3"/>
<path d="M 1237.9 1278.5 V 1284.75" stroke-width="2"/>
<path d="M 1203 1277.5 V 1340.75 L 1207 1343.5 V 1357 L 1209.5 1360.1 H 1212.25" stroke-width="2"/>
<path d="M 1206 1280.75 V 1293 L 1206.9 1293.75 V 1312.75 L 1207.9 1313.25 V 1320 L 1209.25 1323.75 H 1210.75 L 1211.75 1321.25 V 1315 L 1213.25 1314.5 V 1305 L 1214.1 1304.5 V 1284.75" stroke-width="2"/>
<path d="M 1220 1280.75 V 1284.75 M 1224 1280.75 V 1284.75" stroke-width="2"/>
<path d="M 1213.25 1287 H 1249.9" stroke-width="4.6"/>
<path d="M 1245 1284.25 H 1247 L 1248.1 1285.1" stroke-width="2"/>
<path d="M 1217.1 1287.5 V 1350 M 1249.1 1286 V 1350 M 1244.1 1304.75 V 1350 M 1223 1304.75 V 1350" stroke-width="2"/>
<path d="M 1221 1289.25 V 1304.6 H 1246 V 1289.25" stroke-width="2"/>
<path d="M 1217.1 1350.6 H 1250" stroke-width="2.2"/>
<path d="M 1249.1 1350 L 1246 1351.6 L 1245.25 1354.6 L 1244.1 1355.1 V 1361.8" stroke-width="2"/>
<path d="M 1212.5 1361.8 H 1244.6" stroke-width="2.4"/>
<path d="M 1213.1 1361.8 V 1347 H 1214.5 L 1216 1348.6" stroke-width="2"/>
<path d="M 1346.1 1277.85 H 1382.75" stroke-width="3.3"/>
<path d="M 1381.9 1277.25 V 1283.5" stroke-width="2"/>
<path d="M 1347 1276.25 V 1339.5 L 1351 1342.25 V 1355.75 L 1353.5 1358.85 H 1356.25" stroke-width="2"/>
<path d="M 1350 1279.5 V 1291.75 L 1350.9 1292.5 V 1311.5 L 1351.9 1312 V 1318.75 L 1353.25 1322.5 H 1354.75 L 1355.75 1320 V 1313.75 L 1357.25 1313.25 V 1303.75 L 1358.1 1303.25 V 1283.5" stroke-width="2"/>
<path d="M 1364 1279.5 V 1283.5 M 1368 1279.5 V 1283.5" stroke-width="2"/>
<path d="M 1357.25 1285.75 H 1393.9" stroke-width="4.6"/>
<path d="M 1389 1283 H 1391 L 1392.1 1283.85" stroke-width="2"/>
<path d="M 1361.1 1286.25 V 1348.75 M 1393.1 1284.75 V 1348.75 M 1388.1 1303.5 V 1348.75 M 1367 1303.5 V 1348.75" stroke-width="2"/>
<path d="M 1365 1288 V 1303.35 H 1390 V 1288" stroke-width="2"/>
<path d="M 1361.1 1349.35 H 1394" stroke-width="2.2"/>
<path d="M 1393.1 1348.75 L 1390 1350.35 L 1389.25 1353.35 L 1388.1 1353.85 V 1360.55" stroke-width="2"/>
<path d="M 1356.5 1360.55 H 1388.6" stroke-width="2.4"/>
<path d="M 1357.1 1360.55 V 1345.75 H 1358.5 L 1360 1347.35" stroke-width="2"/>
<path d="M 484.67 843.33 L 485.33 788.67 H 495 L 520.83 803.67 L 521.67 836.67 L 526.67 854.17 L 530.83 877.5 L 535 926.67 L 537.5 985 L 538 1010" stroke-width="1.89"/>
<path d="M 486.67 790.33 L 512.5 804.67 L 514.17 837.5 L 518.33 845 L 521.67 876.67 L 526.67 926.67 L 530 976.67 L 531 1043.33 L 530 1090" stroke-width="1.89"/>
<path d="M 528.33 854.17 Q 528.33 853.33 530 853.67 H 533.33 Q 535 853.67 535 855.83 V 875.83 Q 535 877.5 533.33 877.5 H 531.17" stroke-width="1.89"/>
<path d="M 509.17 810.83 V 835.83" stroke-width="4.96"/>
<path d="M 484.67 843.33 Q 484.67 847.5 480.83 848.33 Q 477.5 845.83 475.33 840 Q 479.17 837 483 839.67 Q 484.67 841.67 484.67 843.33 M 475.83 838.33 H 472.5 Q 469.17 843.33 468.33 850 L 465 849.17" stroke-width="1.89"/>
<path d="M 465 848.67 L 465.33 976.67 L 467.5 1033.33 L 470 1110" stroke-width="1.89"/>
<path d="M 466.67 854.17 V 871.67" stroke-width="4.72"/>
<path d="M 488 840 L 487.5 871.67" stroke-width="4.72"/>
<path d="M 490 839.67 Q 493 850 491.33 862 H 501.67" stroke-width="1.65"/>
<path d="M 516.67 856.67 V 875" stroke-width="4.25"/>
<path d="M 513.33 861.33 H 525.83" stroke-width="1.65"/>
<path d="M 509.67 885.83 V 906.67" stroke-width="4.25"/>
<path d="M 511.67 906.67 Q 515 893.33 518.67 906.67 L 521.67 976.67 L 520.83 1010 Q 519.17 1036.67 516.33 1037 Q 513.33 1036.67 511.67 1010 L 510 976.67 L 509.33 926.67 Z" stroke-width="1.77"/>
<path d="M 482.83 921.67 V 932.5 M 482 940.83 V 951.67" stroke-width="3.78"/>
<ellipse cx="472.83" cy="985.33" rx="3.17" ry="27.5" stroke-width="1.77"/>
<path d="M 477.5 1017.5 V 1028.67" stroke-width="3.54"/>
<path d="M 476.33 1036.67 V 1047" stroke-width="3.54"/>
<path d="M 525.33 958.33 V 978.67" stroke-width="5.9"/>
<path d="M 484.17 1110 L 487.5 1020 Q 493.33 978.33 497.5 978.33 Q 501.33 978.33 505.33 1013.33 L 512 1096.67" stroke-width="1.77"/>
<path d="M 494.17 1110 L 497.5 1020 L 500.83 990" stroke-width="1.65"/>
<path d="M 528.33 1015 V 1028.67" stroke-width="4.72"/>
<path d="M 537.5 1010 H 544.67 V 1033.33 H 538" stroke-width="1.89"/>
<path d="M 537.5 1033.33 L 537 1090" stroke-width="1.89"/>
<path d="M 470.83 1085 V 1108.33" stroke-width="4.01"/>
<path d="M 524.5 1096.67 V 1108.33" stroke-width="3.54"/>
<path d="M 470 1090 V 1232.5 L 471 1256.67 L 472.67 1290 L 480 1331.67 L 493.33 1360 Q 497.5 1365 504.17 1361.67" stroke-width="1.89"/>
<path d="M 485 1090 L 484.17 1115 L 482 1158.33 M 493.33 1090 L 493 1115 L 491 1158.33 M 479.17 1158.67 Q 485 1161.33 491 1158.67" stroke-width="1.77"/>
<path d="M 475.83 1138.33 V 1160" stroke-width="4.25"/>
<path d="M 470 1232.5 L 479.17 1231.67 M 479.17 1159.17 V 1231.67 L 513.33 1253.33 M 487.17 1160 V 1231.67 L 514.33 1247" stroke-width="1.77"/>
<path d="M 511.67 1090 V 1131.67 L 512.5 1175 L 515 1181.67 L 514.67 1253.33" stroke-width="1.77"/>
<path d="M 524.17 1096.67 V 1111.67 M 524.17 1121.67 V 1140" stroke-width="4.01"/>
<path d="M 530 1090 L 527.5 1156.67 L 525.83 1190 L 522.5 1256.67 L 520.83 1298.33 H 529.17" stroke-width="1.89"/>
<path d="M 537.5 1090 L 535.83 1148.33 L 534.17 1185 V 1191.67 M 533.33 1215 L 532.5 1223.33 L 529.17 1273.33 L 527.5 1298.33" stroke-width="1.89"/>
<path d="M 534.17 1191.67 H 540.5 V 1215 H 533.33" stroke-width="1.89"/>
<path d="M 523.33 1195 V 1211.67" stroke-width="5.9"/>
<path d="M 475 1196.67 V 1206.67" stroke-width="4.01"/>
<path d="M 480.5 1256.67 V 1269.17 M 498.33 1268.33 V 1280.83 M 519.17 1223.33 V 1235" stroke-width="2.12"/>
<path d="M 515 1277.5 V 1290.83" stroke-width="4.01"/>
<path d="M 520.33 1298.33 L 517.5 1323.33 Q 515 1340 506.67 1356.67 L 504.67 1373.33 M 527.5 1298.33 L 525 1323.33 Q 522.5 1343.33 515.33 1356.67 L 514.33 1373.33 M 504.17 1375 H 514.17" stroke-width="1.89"/>
<path d="M 515 1354.17 L 522.17 1348.33 V 1370 H 515" stroke-width="1.89"/>
<path d="M 504.17 1351.67 V 1374.17" stroke-width="3.78"/>
<path d="M 479.17 1321.67 L 480 1345 H 487.5 M 479.17 1321.67 L 495 1360" stroke-width="1.89"/>
<path d="M 216 1161 V 1144.67 M 215.33 1144.73 H 219 L 221.47 1146.2" stroke-width="2"/>
<path d="M 220 1145 V 1161.13" stroke-width="3.8"/>
<path d="M 220 1161.33 L 229.33 1162.67 V 1178.67 L 227.33 1181 H 222" stroke-width="3.2"/>
<path d="M 223.67 1165.67 V 1175" stroke-width="1.6"/>
<path d="M 216.33 1177.67 V 1175 H 223.33 M 216.33 1177.67 L 220 1179" stroke-width="2.6"/>
<path d="M 220.33 1178.33 V 1186.67 H 228.67 L 232.67 1189.13 V 1207.33" stroke-width="3.6"/>
<path d="M 216.33 1186.47 H 220" stroke-width="2.6"/>
<path d="M 231.33 1201.67 V 1208.33" stroke-width="4.6"/>
<path d="M 217.67 1188.33 V 1203.67 M 226.67 1191 V 1199.67" stroke-width="2.2"/>
<path d="M 214.33 1161 V 1171 L 212.67 1172.33 L 211.33 1176.33 L 210.33 1181.67 V 1197 M 209.33 1192.33 H 210.33" stroke-width="1.9"/>
<path d="M 212.13 1197 V 1211" stroke-width="3.8"/>
<path d="M 211 1211 V 1224.33 L 213.33 1224.67 L 213.67 1239 L 215 1247 L 216 1248.33 L 253.33 1268.33" stroke-width="2.4"/>
<path d="M 232.67 1201.67 L 236 1201.47 L 251.33 1211.13" stroke-width="3"/>
<path d="M 249.13 1181.67 V 1165.67 M 248.33 1165.53 H 253.33 L 255.47 1167.33" stroke-width="2.2"/>
<path d="M 254.33 1166.33 V 1181.67" stroke-width="3.6"/>
<path d="M 248.33 1181.67 L 251.33 1185 H 256.67 M 255.67 1181 L 261.67 1183.33 V 1199 L 258.67 1200.67" stroke-width="2.4"/>
<path d="M 257.47 1186.33 V 1198.33" stroke-width="2"/>
<path d="M 251.67 1185.67 V 1195.67 L 249 1197.33 V 1208" stroke-width="2.2"/>
<path d="M 251.93 1205.67 V 1255" stroke-width="2.2"/>
<path d="M 254.13 1188.33 L 255.33 1201.67 L 256.67 1215 L 257.2 1228.33 L 256.53 1241.67 L 255.07 1255 L 253.6 1268.33" stroke-width="2.6"/>
<path d="M 257.2 1216.33 L 260 1221 L 260.67 1239 L 258.67 1241.67 L 257.07 1242.33 L 256.67 1235 L 257.47 1228.33 Z" stroke-width="1" fill="#000"/>
<path d="M 258 1206.33 L 260.67 1206.67 L 264.67 1209.13 V 1249.67 L 262.67 1253 H 258.67" stroke-width="2.4"/>
<path d="M 259 1211.67 H 263 V 1248.33" stroke-width="1.4"/>
<path d="M 259.13 1209 V 1245" stroke-width="2"/>
<path d="M 237.47 1213 V 1226.67" stroke-width="3"/>
<path d="M 218 1221 V 1233.67 L 222.67 1235.67 M 227 1221 V 1233 L 231.33 1234.33" stroke-width="2"/>
<path d="M 244.33 1247.67 L 251.33 1252.33" stroke-width="2.6"/>
<path d="M 248.33 1244.33 H 251.33" stroke-width="2.4"/>
<path d="M 251.33 1243 V 1255.67" stroke-width="3"/>
<path d="M 637 1184 L 648 1178.33 L 653.33 1176 L 662.67 1178 L 665.33 1182.67 L 699.67 1201 V 1203.33 L 693.33 1206 L 690 1208.67 L 687.33 1208.67 L 684.67 1204.67 L 670 1203.33 L 656.67 1198.67 L 652 1200 L 650 1196.67 L 637 1189.33 Z" stroke-width="1" fill="#000"/>
<g stroke="#fff">
<path d="M 641 1185.2 L 645.67 1187.47" stroke-width="1.6"/>
<path d="M 650 1181.47 L 653.33 1180" stroke-width="1.4"/>
<path d="M 653.33 1183.67 L 661.33 1184.4" stroke-width="1.6"/>
<path d="M 652.33 1189.47 L 660.33 1190 L 658.67 1191.47 L 655 1191.47 Z" stroke-width="1" fill="#fff"/>
<path d="M 662.33 1192.53 L 665.33 1189.67 L 669.67 1192.53 Z" stroke-width="1" fill="#fff"/>
<path d="M 663.33 1186.13 H 667.33 L 679 1194.67" stroke-width="1.6"/>
<path d="M 656.67 1198.53 L 671.33 1199.73 M 672.67 1200.53 L 682.67 1201.47 M 685.33 1202.67 L 692.67 1203.07" stroke-width="1.2"/>
</g>
<path d="M 653.13 1200 V 1276 Q 653.33 1278 655.67 1279.33 L 694 1300.8" stroke-width="2"/>
<path d="M 696.4 1200.33 V 1268.67" stroke-width="6.7"/>
<path d="M 696 1268.67 V 1300.8" stroke-width="4.2"/>
<path d="M 698.67 1275.33 V 1290" stroke-width="2.4"/>
<path d="M 693.33 1300 H 698" stroke-width="2.2"/>
<path d="M 657 1200 V 1207.67" stroke-width="2.4"/>
<path d="M 669 1211 V 1223" stroke-width="2.6"/>
<path d="M 684.33 1220 V 1232.67" stroke-width="3.2"/>
<path d="M 657 1236 V 1243.33 L 664 1248.8" stroke-width="2.6"/>
<path d="M 655 1246.67 L 656.13 1250.67 H 658.67" stroke-width="2"/>
<path d="M 657.67 1256 V 1268" stroke-width="3.6"/>
<path d="M 675.67 1267.33 V 1279.33" stroke-width="2.6"/>
<path d="M 678.33 1263.47 L 692.67 1272 M 686.67 1261.47 L 693 1265.33" stroke-width="2.6"/>
<path d="M 692 1277.33 V 1289.33" stroke-width="2.2"/>
<path d="M 901.76 808.76 V 783.62 H 958.34" stroke-width="2.12"/>
<path d="M 901.76 808.76 L 905.43 810.86 V 830.76 L 903.33 837.05 L 901.24 839.67 L 900.72 873.72 L 901.76 877.91 L 905.43 881.26 L 905.95 933.44 L 904.38 937.63 L 902.81 942.87 L 902.29 990.01" stroke-width="2.12"/>
<path d="M 902.29 784.67 L 926.38 799.86 H 962.53" stroke-width="2.12"/>
<path d="M 927.43 800.38 V 831.29 M 951 800.38 L 952.05 853.81 M 927.43 831.81 H 952.05 M 929.53 832.86 V 856.96 M 923.76 856.96 H 948.91 L 953.1 859.58 L 948.91 861.36 H 923.76" stroke-width="2.12"/>
<path d="M 920.1 811.38 L 926.91 809.6 V 831.29 L 920.1 828.67 Z" stroke-width="1.18" fill="#000"/>
<path d="M 918.53 824.48 Q 915.17 829.72 915.38 845.43 L 918.53 862.19 M 921.67 829.19 Q 925.02 843.34 921.67 856.96" stroke-width="1.89"/>
<path d="M 904.38 838.1 V 868.48" stroke-width="5.9"/>
<path d="M 907.52 847.53 L 911.19 851.72 L 909.62 853.81 L 910.14 906.2 L 912.76 921.91" stroke-width="2.01"/>
<path d="M 914.86 845.43 V 864.29 L 916.43 909.34 L 917.48 921.91 L 914.86 924.01" stroke-width="2.01"/>
<path d="M 921.14 856.96 L 921.88 990.01" stroke-width="4.96"/>
<path d="M 922.72 871.41 H 957.29 M 922.72 889.96 H 957.29" stroke-width="2.12"/>
<path d="M 956.24 872.15 V 889.43" stroke-width="3.54"/>
<path d="M 962.53 800.38 L 963.37 832.86 L 960.64 843.34 L 958.34 872.67 V 895.2 H 1004.96" stroke-width="2.12"/>
<path d="M 958.86 895.72 L 959.91 927.15 L 961.48 969.06 L 962.53 978.49 L 971.96 973.25 L 981.39 983.72" stroke-width="2.01"/>
<path d="M 963.58 811.38 H 973 M 972.48 797.76 V 810.86 M 993.43 798.29 V 816.1" stroke-width="2.12"/>
<path d="M 967.77 814 Q 965.46 828.67 966.3 843.34" stroke-width="3.54"/>
<path d="M 970.91 849.62 Q 970.39 862.19 964.62 869.53 L 959.38 883.15" stroke-width="2.01"/>
<path d="M 931.94 942.87 L 932.77 990.01 M 933.72 942.87 L 936.55 990.01" stroke-width="1.89"/>
<path d="M 935.29 963.82 H 951 L 957.29 969.06 Q 958.86 975.34 951 977.44 H 935.29" stroke-width="2.01"/>
<path d="M 903.86 937.63 H 911.19 M 904.38 939.72 H 911.19 V 948.1" stroke-width="1.77"/>
<path d="M 904.91 952.29 V 969.06" stroke-width="5.9"/>
<path d="M 912.76 921.91 L 912.24 990.01 M 907.52 969.06 L 909.1 990.01" stroke-width="1.89"/>
<path d="M 982.43 986.03 L 1004.96 982.89" stroke-width="3.54"/>
<path d="M 901.76 985 L 898.48 994.86 L 899.03 1017.86 L 896.29 1050.72 L 893.55 1083.58 L 891.36 1105.48 L 888.84 1127.39 L 888.62 1160.25 L 890.81 1174.49 L 904.5 1182.15 H 921.48" stroke-width="2.12"/>
<path d="M 905.05 985 L 902.86 1006.91 L 900.12 1039.76 L 897.38 1072.62 L 895.74 1081.39 L 893.55 1094.53 L 892.45 1127.39 L 893.55 1158.06 L 899.57 1166.82 L 902.31 1155.87 L 902.86 1127.39 L 905.05 1083.58 L 902.86 1050.72" stroke-width="2.01"/>
<path d="M 895.74 1081.39 L 901.22 1082.7" stroke-width="1.89"/>
<path d="M 905.05 1116.43 V 1181.06 M 905.6 1147.1 H 934.62" stroke-width="2.12"/>
<path d="M 909.43 991.57 L 907.24 1028.81 L 902.86 1055.1" stroke-width="2.01"/>
<path d="M 911.62 994.86 V 1008 H 921.48 M 911.62 994.86 H 920.93" stroke-width="1.89"/>
<path d="M 907.24 1046.34 L 911.07 1024.43 Q 913.26 1020.6 915.45 1024.43 L 918.74 1032.1" stroke-width="2.01"/>
<path d="M 919.07 985 L 922.79 1017.86 L 924.22 1061.67 L 923.67 1105.48 L 921.48 1121.91 V 1192.01 L 932.43 1200.22 H 979.53" stroke-width="2.6"/>
<path d="M 917.1 1028.81 L 921.48 1061.67" stroke-width="4.25"/>
<path d="M 931.34 985 L 935.72 1017.86 L 944.48 1055.1" stroke-width="3.54"/>
<path d="M 924.76 1060.58 H 929.69 L 932.98 1068.24 L 937.36 1072.62 L 939 1094.53" stroke-width="2.01"/>
<path d="M 939.77 1089.05 V 1115.89" stroke-width="6.49"/>
<path d="M 939.55 1126.29 L 937.03 1147.1" stroke-width="7.67"/>
<path d="M 924.76 1096.17 H 936.81 M 913.81 1105.48 H 921.48" stroke-width="2.01"/>
<path d="M 911.62 1110.96 H 921.48" stroke-width="3.07"/>
<path d="M 911.07 1117.53 V 1092.89 L 914.91 1095.62 V 1103.29" stroke-width="2.12"/>
<path d="M 934.62 1054 H 941.19 M 934.62 1054 L 941.19 1060.58 V 1199.68 M 934.62 1165.72 V 1199.68" stroke-width="2.12"/>
<path d="M 941.19 1063.31 H 950.5 L 955.43 1057.84 Q 963.1 1055.65 970.77 1057.29 L 975.15 1060.58 H 982.6 V 1142.72" stroke-width="2.24"/>
<path d="M 943.38 1050.72 L 951.05 1048.53 L 963.1 1050.72 L 975.15 1051.27 Q 980.62 1054 982.81 1060.58 M 963.1 1050.72 L 968.58 1055.1 L 975.15 1060.58" stroke-width="2.01"/>
<path d="M 944.48 1055.1 L 946.89 1060.79" stroke-width="3.54"/>
<circle cx="963.32" cy="1075.03" r="8.98" stroke-width="2.12"/>
<path d="M 966.59 1068.45 A 7.19 7.19 0 0 1 957.36 1079.46" stroke-width="1.65"/>
<path d="M 941.74 1115.34 H 981.72 M 941.74 1122.46 H 981.72" stroke-width="2.12"/>
<path d="M 941.74 1142.72 H 948.86 Q 955.43 1134.51 963.65 1134.51 Q 975.15 1135.05 980.84 1146.01 Q 983.91 1158.06 977.89 1166.82" stroke-width="2.24"/>
<path d="M 947.77 1165.72 Q 953.24 1171.75 963.65 1171.75 Q 971.86 1171.2 977.89 1166.82" stroke-width="2.83"/>
<path d="M 941.74 1199.68 V 1171.2 Q 943.38 1165.72 947.77 1165.72" stroke-width="2.24"/>
<path d="M 977.89 1166.82 Q 982.81 1171.2 982.81 1177.77 V 1197.49 L 979.53 1199.9" stroke-width="3.78"/>
<path d="M 933.53 1162.44 L 941.19 1164.63 L 947.98 1164.63" stroke-width="1.89"/>
<path d="M 923.67 1151.48 L 926.96 1183.25 Q 928.6 1185.99 930.46 1182.15 L 933.53 1150.39" stroke-width="2.01"/>
<path d="M 982.81 1157.51 H 995.96 Q 1000.89 1160.25 1009.98 1177.77 M 986.1 1180.51 H 1009.98 M 982.81 1197.49 H 1009.98" stroke-width="2.12"/>
<path d="M 983.91 1068.79 L 1009.98 1063.31" stroke-width="3.54"/>
<path d="M 982.81 1060.58 L 1009.98 1055.1" stroke-width="2.01"/>
<path d="M 978.43 988.29 Q 974.93 991.57 975.7 1003.62 L 985.01 1016.76 M 1009.98 985 L 989.39 1001.43 Q 986.1 1010.74 988.51 1020.27 H 1009.98" stroke-width="2.12"/>
<path d="M 982.81 986.31 L 1009.98 985" stroke-width="3.54"/>
<path d="M1275,781.2 L1392,781.8 L1414.2,795.4"/>
<path d="M922,785.2 L1040,784.4 L1160,784.6 L1383,785.2" stroke-width="5.2"/>
<path d="M936.6,794.6 L1160,794.6 L1386,794.8" stroke-width="4.8"/>
<path d="M1362,790 L1387,790" stroke-width="9"/>
<path d="M1318,787 L1362,790" stroke-width="3"/>
<path d="M1330,793 L1362,791" stroke-width="2.4"/>
<path d="M951,786.5 L962,793" stroke-width="3.6"/>
<path d="M1058,786.5 L1076,793" stroke-width="3.6"/>
<path d="M1084,786.5 L1104,793" stroke-width="3.6"/>
<path d="M1207,786.5 L1218,793" stroke-width="3.6"/>
<path d="M1226,786.5 L1234,793" stroke-width="3.6"/>
<path d="M955,781.6 L990,781.2" stroke-width="2.2"/>
<path d="M1030,781 L1085,780.4 L1120,781" stroke-width="2.4"/>
<path d="M1105,780.6 L1140,780.2" stroke-width="2.6"/>
<path d="M1215,780.8 L1255,780.4" stroke-width="2.4"/>
<path d="M1330,780.6 L1350,780.4" stroke-width="2"/>
<path d="M 962.5 797.5 V 811.67 M 972.5 797.5 V 811.67 M 995 797.5 V 816.67 H 988.33 M 1016.67 797.5 V 809.67 M 1047.5 797.5 V 811.67 M 1158.33 796.67 V 851.67 M 1168.33 796.67 V 850" stroke-width="2.01"/>
<path d="M 963.33 811.67 H 986.67" stroke-width="2.01"/>
<path d="M 967.5 811.67 L 982.5 812.5 L 970.83 824.17" stroke-width="3.54"/>
<path d="M 1018.33 810.83 L 1071.67 813.67 M 1115 811.67 L 1158.33 812.5" stroke-width="2.01"/>
<path d="M 989.17 810 Q 973.33 814.17 969.17 831.67 Q 966.67 850 983.33 859.17 Q 1000 865 1013.33 851.67 Q 1021.67 840 1019.17 824.17" stroke-width="2.24"/>
<path d="M 966.67 825 Q 963 840 970 852 Q 980 863.67 996.67 862" stroke-width="1.77"/>
<path d="M 989.17 810 L 995.33 813 L 990.83 816.17 Q 978.33 820 975 832.5 Q 974.17 846.67 988.33 852.5 Q 1003.33 855.33 1010.83 841.67 Q 1014.33 831.67 1009.17 824.17 Q 1005.33 817 1009.17 812 Q 1013.33 807.5 1018.67 810.33" stroke-width="2.12"/>
<path d="M 1013.33 814.17 H 1068.33 M 1015 817.67 H 1067.5 M 1013.33 814.17 Q 1011.33 816 1015 817.67" stroke-width="1.77"/>
<circle cx="1096.17" cy="829.17" r="21.17" stroke-width="2.36"/>
<circle cx="1096.67" cy="830" r="6" stroke-width="2.12"/>
<path d="M 1098.85 825.6 A 4.8 4.8 0 0 1 1092.68 832.96" stroke-width="1.65"/>
<path d="M 1071.67 813.67 Q 1064.17 826.67 1071.67 841.67" stroke-width="2.01"/>
<path d="M 1074.17 845.83 Q 1075 863.33 1085.33 871 M 1110.83 850 Q 1110 863.33 1100.33 871.67" stroke-width="2.01"/>
<rect x="1084.2" y="868" width="15.2" height="136.8" rx="3" fill="#000" stroke="none"/>
<rect x="1090.8" y="870" width="3.3" height="132.5" fill="#fff" stroke="none"/>
<path d="M1085.6,872V902M1085.6,948V1000M1098.2,946V996" stroke="#fff" stroke-width="1"/>
<path d="M 1081.67 886.67 V 915" stroke-width="2.83"/>
<path d="M 1083.33 948.33 V 981.67 M 1098.67 945.83 V 985" stroke-width="1.89"/>
<circle cx="1042.5" cy="890.83" r="37.67" stroke-width="2.01"/>
<circle cx="1042.5" cy="890.83" r="34.5" stroke-width="2.01"/>
<circle cx="1042.83" cy="891.17" r="26.5" stroke-width="2.6"/>
<path d="M 958.33 895 H 1005.33 M 1100.83 894.17 H 1126.67" stroke-width="2.12"/>
<path d="M 1158.33 851.67 A 37.67 37.67 0 1 0 1169.67 850.33" stroke-width="2.24"/>
<circle cx="1165" cy="890.33" r="26.17" stroke-width="2.6"/>
<path d="M 962.5 800 L 961.67 836.67 L 958.33 873.33 V 895 L 960 936.67 L 961.67 977.5 L 970.83 973.67 L 975 980 L 981.67 984.17" stroke-width="2.01"/>
<path d="M 970.83 852 Q 970 863.33 963.33 870 L 958.33 885" stroke-width="1.89"/>
<path d="M 981.67 986.67 Q 1000 982.5 1018.33 982 Q 1046.67 983.33 1080 987.5 Q 1084.17 986.67 1084.17 981.67" stroke-width="2.6"/>
<path d="M 975.83 988.33 Q 974.67 1003.33 980 1010 L 988.33 1020.83 H 1043.33 L 1040 1036.67" stroke-width="2.12"/>
<path d="M 988.33 1020 Q 986.67 1001.67 1003.33 990 Q 1023.33 979.67 1046.67 991.67 Q 1063.33 1003.33 1060.83 1020 Q 1056.67 1035 1040 1037.17" stroke-width="2.24"/>
<path d="M 1043.33 1022 Q 1030 1053.33 983.33 1063.67" stroke-width="2.12"/>
<path d="M 1039.17 1038.33 Q 1035 1046.67 1026.67 1053.33 Q 1015 1061.33 1006.67 1064.17" stroke-width="3.3"/>
<path d="M 1037.5 1043.33 L 1030.83 1086.67 L 1027.5 1120" stroke-width="1.89"/>
<path d="M 983.33 1068.33 L 1010 1062" stroke-width="1.89"/>
<path d="M 933 943.33 L 934.17 986.67 Q 936.67 1020 943.33 1050 L 947.5 1060.83 M 935 983.33 Q 937.67 1020 947 1060.83" stroke-width="1.89"/>
<path d="M 1068.33 996.67 L 1071.67 1075.83" stroke-width="1.89"/>
<path d="M 1070.83 999.17 Q 1080 1003.33 1087.5 1013" stroke-width="3.54"/>
<path d="M 1087.5 1013 L 1097.83 1013.67 V 1045 Q 1093.33 1048.33 1087.5 1047.83 L 1084.67 1023.33 Q 1080.83 1008.33 1073.33 1000.83" stroke-width="2.01"/>
<path d="M 1101.67 1018.33 Q 1121.67 1023.33 1133.33 1040 Q 1137.5 1050 1138.67 1054.17" stroke-width="2.01"/>
<path d="M 1096.67 1045.33 Q 1105 1061.67 1110 1078.33 M 1085.33 1050 L 1087.5 1076.67 M 1127.5 1040 V 1076.67" stroke-width="1.89"/>
<path d="M 1149.17 1051.67 Q 1148 1041.67 1154.17 1039.17 Q 1160.33 1043.33 1159.17 1051.67" stroke-width="2.01"/>
<path d="M 1100.83 983.33 Q 1101.67 987.5 1104.17 987.5 L 1170 980.33" stroke-width="2.12"/>
<ellipse cx="1166" cy="1011.67" rx="37.67" ry="26.67" stroke-width="2.24"/>
<path d="M 1414.17 795 V 828.33 M 1386.67 795 H 1414.17 M 1390.83 796.67 V 840 M 1367.5 796.67 V 811.67 M 1374.17 770 V 797.5" stroke-width="2.01"/>
<path d="M 1169.17 796.67 V 850.33" stroke-width="2.01"/>
<path d="M 1169.17 810.83 H 1367.5" stroke-width="2.01"/>
<path d="M 1215 811.67 L 1217.5 856.67 Q 1220 866.67 1226.67 871.67" stroke-width="2.01"/>
<path d="M 1226.67 871.67 V 998.33 Q 1233.67 1007.5 1241.67 998.33 L 1242.5 985 M 1240 936.67 V 870 Q 1233.33 867.5 1226.67 871.67" stroke-width="2.12"/>
<path d="M 1228 870 V 998.67" stroke-width="3.78"/>
<path d="M 1236.67 870 V 1000.83" stroke-width="1.89"/>
<path d="M 1240 893.33 H 1247.5 M 1201.67 894.17 H 1225.83" stroke-width="2.01"/>
<circle cx="1259.67" cy="836.67" r="24.17" stroke-width="3.07"/>
<circle cx="1260.5" cy="837" r="19.67" stroke-width="1.89"/>
<circle cx="1262.33" cy="837.33" r="8.33" stroke-width="2.12"/>
<path d="M 1265.37 831.23 A 6.67 6.67 0 0 1 1256.8 841.44" stroke-width="1.65"/>
<circle cx="1325.83" cy="835.83" r="22.67" stroke-width="2.36"/>
<path d="M 1291.67 833.33 Q 1293.33 815 1306.67 810 Q 1318.33 807 1328.33 810" stroke-width="1.89"/>
<path d="M 1293.33 843.33 Q 1298.33 853.33 1310 857.5" stroke-width="1.89"/>
<circle cx="1326.5" cy="837.33" r="8.33" stroke-width="2.12"/>
<path d="M 1329.53 831.23 A 6.67 6.67 0 0 1 1320.97 841.44" stroke-width="1.65"/>
<path d="M 1284.17 830.67 H 1303.33" stroke-width="4.01"/>
<path d="M 1285 840.67 H 1303.33" stroke-width="2.6"/>
<circle cx="1287" cy="890" r="37.33" stroke-width="2.01"/>
<circle cx="1287" cy="890" r="34.33" stroke-width="2.01"/>
<circle cx="1287.5" cy="890" r="26.67" stroke-width="2.6"/>
<path d="M 1250.83 860.83 Q 1246.67 865 1241.67 871.67" stroke-width="1.89"/>
<path d="M 1324.17 860 L 1325.83 903.33 L 1324.17 935 M 1363.33 812.5 V 935.83" stroke-width="2.01"/>
<path d="M 1324.17 935 L 1358.33 936.67 L 1364.17 935.83 M 1316.67 940 L 1322.5 935.83 M 1358.33 936.67 L 1368.33 940 V 1001.67 M 1360.83 945 V 1001.67 M 1316.67 940 V 978.33 L 1320.83 983.33 M 1323.33 941.67 V 981.67 M 1298.33 979.17 H 1315.83 M 1290 981.67 L 1295 986.67 H 1320" stroke-width="2.01"/>
<path d="M 1322.5 941.67 H 1358.33" stroke-width="3.07"/>
<path d="M 1289.17 982.5 Q 1286.67 1003.33 1293.33 1015 Q 1310 1013.33 1326.67 1018.33 Q 1343.33 1025 1353.33 1034.17 M 1294.17 988.33 V 1011.67" stroke-width="2.01"/>
<circle cx="1263" cy="961.83" r="21.33" stroke-width="2.36"/>
<path d="M 1277.82 944.27 A 25 25 0 1 0 1248.1 982.98" stroke-width="3.3"/>
<circle cx="1263.33" cy="962.5" r="7.83" stroke-width="2.12"/>
<path d="M 1266.18 956.76 A 6.27 6.27 0 0 1 1258.13 966.36" stroke-width="1.65"/>
<path d="M 1284.17 954.17 H 1296.67 Q 1302 955 1301.67 960.33 Q 1300.83 966 1295.83 966.33 H 1285" stroke-width="2.01"/>
<path d="M 1238.33 978.33 L 1250.83 985 H 1269.17 L 1286.67 981.33" stroke-width="1.89"/>
<path d="M 1250.83 985 L 1255.83 1033.33 Q 1258.33 1038.67 1260.33 1036.67 Q 1268.33 1025 1270 1011.67 L 1269.17 985" stroke-width="2.01"/>
<path d="M 1208.33 1003.33 Q 1210 995 1215 997.5 L 1221.67 1006.67 Q 1230 1015 1243.33 1011.67 L 1240 1021.67 L 1238.33 1036.67 L 1237.5 1100.83" stroke-width="2.01"/>
<path d="M 1208.33 1003.33 L 1205 1105" stroke-width="3.54"/>
<path d="M 1211.67 1001.67 L 1214.17 1100.83 M 1245 1020 L 1246.67 1105 M 1214.17 1100.83 H 1237.5" stroke-width="1.89"/>
<path d="M 1214.17 1100.83 L 1198.33 1110 L 1200 1120" stroke-width="2.83"/>
<path d="M 1237.5 1100.83 Q 1243.33 1106.67 1280 1110 M 1198.33 1110 H 1276.67" stroke-width="2.01"/>
<path d="M 1160 980.83 L 1221.67 986.67 Q 1225.83 985.33 1225.83 981.67" stroke-width="2.12"/>
<path d="M 1414.17 828.33 H 1392.5 V 840 H 1414.17 M 1416.67 828.33 V 861.67 H 1404.17 V 850 H 1416.67" stroke-width="2.12"/>
<path d="M 1390.83 828.33 H 1380 Q 1367.5 832 1367.5 843.33 Q 1369.17 858.33 1383.33 860.83 L 1404.17 859.17" stroke-width="2.12"/>
<path d="M 1404.17 863.33 V 885 H 1376.67 Q 1374.17 886.67 1374.17 893.33 Q 1375 903.33 1378.33 905 H 1404.17 V 911.67 M 1378.33 885 V 903.33 M 1376.67 899.17 H 1404.17" stroke-width="2.01"/>
<path d="M 1414.17 863.33 L 1415.83 903.33 L 1413.33 953.33 L 1415 1028.33 Q 1418.33 1053.33 1423.33 1070 L 1425.83 1120" stroke-width="2.01"/>
<path d="M 1404.17 911.67 L 1402.5 953.33 V 1011.67 L 1403.33 1045 Q 1406.67 1061.67 1411.67 1076.67" stroke-width="2.01"/>
<path d="M 1368.33 1001.67 H 1378.33 V 1030 H 1361.67 V 1002.5 M 1353.33 1001.67 H 1368.33 M 1378.33 1005 Q 1390 1011.67 1402.5 1008.33 M 1378.33 1016.67 H 1402.5" stroke-width="2.01"/>
<path d="M 1355.83 1035 L 1357.5 1061.67 L 1360 1086.67" stroke-width="2.83"/>
<path d="M 1365.83 1031.67 Q 1366.67 1053.33 1375 1076.67" stroke-width="2.01"/>
<path d="M 1000 1177.44 H 1118.27" stroke-width="3.3"/>
<path d="M 1156.59 1175.78 H 1290.02" stroke-width="3.54"/>
<path d="M 1000 1196.6 H 1290.02" stroke-width="2.12"/>
<path d="M 1029.15 1179.94 V 1196.6 M 1039.15 1179.94 V 1196.6 M 1059.14 1179.94 V 1196.6" stroke-width="2.01"/>
<circle cx="1068.3" cy="1097.98" r="21.66" stroke-width="2.83"/>
<circle cx="1069.13" cy="1097.48" r="18.32" stroke-width="1.77"/>
<circle cx="1069.97" cy="1098.31" r="7.66" stroke-width="2.12"/>
<path d="M 1072.75 1092.7 A 6.13 6.13 0 0 1 1064.88 1102.09" stroke-width="1.65"/>
<path d="M 1085.79 1109.31 L 1133.27 1108.31 L 1139.1 1111.97 L 1138.26 1117.47" stroke-width="1.89"/>
<path d="M 1081.63 1112.64 H 1138.26" stroke-width="3.54"/>
<path d="M 1064.13 1118.64 H 1138.26" stroke-width="4.48"/>
<path d="M 1146.59 1088.32 L 1132.43 1138.29 M 1150.76 1090.82 L 1138.26 1139.96 M 1155.76 1092.48 L 1144.93 1141.63" stroke-width="2.12"/>
<circle cx="1157.42" cy="1071.16" r="18.99" stroke-width="2.6"/>
<path d="M 1148.26 1047.51 Q 1133.27 1056.67 1132.43 1071.66 Q 1133.27 1084.99 1145.26 1093.32" stroke-width="2.36"/>
<circle cx="1157.92" cy="1070.66" r="8" stroke-width="2.12"/>
<path d="M 1160.83 1064.8 A 6.4 6.4 0 0 1 1152.61 1074.6" stroke-width="1.65"/>
<path d="M 1174.91 1065 Q 1184.91 1063.33 1187.41 1068.33 Q 1184.91 1074.99 1176.58 1075.83" stroke-width="2.01"/>
<path d="M 1118.27 1178.27 V 1158.28 Q 1119.94 1146.62 1133.27 1143.29 Q 1149.93 1143.29 1155.76 1158.28 V 1195.77" stroke-width="2.36"/>
<circle cx="1136.6" cy="1161.12" r="7.66" stroke-width="2.12"/>
<path d="M 1139.39 1155.5 A 6.13 6.13 0 0 1 1131.51 1164.89" stroke-width="1.65"/>
<path d="M 1110.78 1176.61 Q 1108.28 1153.29 1114.94 1139.96 Q 1123.27 1133.3 1133.27 1139.13" stroke-width="2.01"/>
<path d="M 1019.99 1178.27 Q 1020.82 1159.95 1031.65 1154.95" stroke-width="2.01"/>
<path d="M 1031.65 1154.95 Q 1044.98 1156.62 1048.31 1176.61" stroke-width="3.3"/>
<path d="M 1024.99 1178.27 Q 1024.99 1163.28 1031.65 1158.28" stroke-width="1.65"/>
<path d="M 1035.82 1060 Q 1028.32 1109.98 1027.49 1154.95 M 1071.63 1060 V 1074.99 M 1086.62 1060 V 1081.66 M 1090.79 1120.8 V 1146.62 Q 1088.29 1166.61 1069.97 1177.44 M 1103.28 1060 Q 1114.94 1079.99 1117.44 1105.81 M 1127.44 1060 V 1104.98 M 1000 1159.95 Q 1006.66 1168.28 1010.83 1179.11" stroke-width="1.89"/>
<path d="M 1203.23 1060 L 1202.4 1104.98" stroke-width="3.07"/>
<path d="M 1207.4 1060 V 1103.31 M 1214.06 1060 V 1099.98 M 1238.21 1060 V 1099.98 M 1246.54 1060 V 1104.98" stroke-width="1.89"/>
<path d="M 1212.39 1099.98 H 1238.21 L 1246.54 1104.98 L 1277.36 1109.14 M 1212.39 1099.98 L 1204.9 1109.98 Q 1196.57 1109.98 1197.4 1114.97 Q 1198.23 1118.3 1204.9 1118.3 L 1211.56 1124.13 L 1238.21 1124.13 L 1276.53 1118.3 M 1199.9 1112.47 L 1274.86 1111.64 M 1204.9 1118.3 L 1273.2 1116.64" stroke-width="2.01"/>
<path d="M 1199.9 1123.3 L 1202.4 1173.28 M 1211.56 1124.97 L 1208.23 1173.28 M 1238.21 1124.13 L 1244.88 1159.95 M 1246.54 1124.97 V 1159.95 M 1244.88 1155.79 H 1237.38 Q 1234.05 1158.62 1237.38 1161.62 H 1246.54" stroke-width="1.89"/>
<circle cx="1270.7" cy="1157.45" r="20.82" stroke-width="2.6"/>
<circle cx="1271.2" cy="1156.95" r="17.66" stroke-width="1.77"/>
<circle cx="1270.7" cy="1158.62" r="7.66" stroke-width="2.12"/>
<path d="M 1273.49 1153 A 6.13 6.13 0 0 1 1265.61 1162.4" stroke-width="1.65"/>
<path d="M 1286.52 1098.31 L 1270.7 1137.46 M 1291.19 1102.48 L 1276.53 1138.29 M 1295.69 1104.98 L 1282.36 1139.96" stroke-width="2.12"/>
<path d="M 1278.19 1076.66 Q 1264.87 1075.83 1259.87 1079.99 Q 1264.87 1086.65 1277.36 1086.65" stroke-width="2.01"/>
<circle cx="1298.43" cy="1081.87" r="19.13" stroke-width="2.83"/>
<path d="M 1276.2 1074.12 Q 1280.34 1063.78 1293.78 1060.68 Q 1306.19 1060.47 1314.46 1068.95" stroke-width="2.01"/>
<path d="M 1277.75 1088.59 Q 1280.34 1095.83 1285.51 1099.97" stroke-width="2.01"/>
<circle cx="1299.47" cy="1083.42" r="7.86" stroke-width="2.12"/>
<path d="M 1302.33 1077.66 A 6.29 6.29 0 0 1 1294.25 1087.3" stroke-width="1.65"/>
<path d="M 1318.08 1076.19 Q 1324.8 1077.22 1325.31 1080.32 Q 1323.76 1086.53 1318.59 1088.59" stroke-width="2.01"/>
<path d="M 1288.61 1174.93 H 1373.91" stroke-width="4.25"/>
<path d="M 1288.61 1195.6 H 1420.95 M 1420.43 1159.93 V 1196.12 M 1369.26 1162 V 1173.37" stroke-width="2.12"/>
<path d="M 1374.94 1160.97 V 1196.12" stroke-width="4.72"/>
<path d="M 1374.43 1077.74 H 1416.82 L 1421.47 1082.39 V 1112.37 H 1426.12 V 1156.83 L 1423.02 1158.9" stroke-width="2.36"/>
<path d="M 1374.43 1156.83 Q 1377.53 1159.11 1381.66 1158.49 H 1423.02" stroke-width="3.78"/>
<path d="M 1374.43 1077.74 L 1370.81 1081.36 V 1102.03 M 1374.43 1081.36 V 1107.2 M 1374.43 1081.36 L 1392 1083.42 V 1108.76 L 1374.43 1107.2" stroke-width="2.01"/>
<path d="M 1393.04 1085.49 Q 1393.04 1081.87 1397.17 1081.87 H 1416.82 Q 1419.92 1082.18 1419.92 1085.49 V 1106.17 Q 1419.71 1109.27 1416.82 1109.27 H 1396.14 Q 1393.04 1109.07 1393.04 1106.17 Z" stroke-width="2.24"/>
<path d="M 1387.87 1110.31 L 1382.18 1119.61 Q 1378.56 1133.05 1383.73 1144.43 Q 1392 1154.76 1407.51 1153.73 Q 1416.82 1151.66 1420.95 1145.46 L 1425.6 1144.43" stroke-width="3.78"/>
<path d="M 1387.87 1110.31 H 1395.62 V 1116.51 L 1389.93 1121.68 Q 1385.8 1130.98 1390.97 1140.29 Q 1398.21 1148.56 1409.58 1147.53 Q 1416.82 1143.39 1418.88 1140.29 L 1425.6 1139.26" stroke-width="2.24"/>
<path d="M 1408.54 1110.31 V 1130.98 H 1414.23 L 1416.82 1110.31 M 1410.82 1111.34 V 1129.95 M 1419.92 1112.37 V 1113.41 H 1426.12" stroke-width="2.12"/>
<path d="M 1355.81 1040 L 1356.85 1112.37 L 1357.88 1151.66 Q 1360.98 1160.97 1369.26 1163.04 M 1358.92 1040 L 1359.95 1071.02 L 1362.54 1112.37 L 1363.05 1151.66 Q 1365.12 1158.9 1373.39 1160.97" stroke-width="1.89"/>
<path d="M 1365.64 1064.81 L 1369.26 1112.37 V 1153.73" stroke-width="5.9"/>
<path d="M 1363.57 1066.88 L 1366.67 1112.37 L 1367.7 1153.73 Q 1369.26 1157.87 1374.43 1158.9" stroke-width="1.77"/>
<path d="M 1366.15 1040 L 1368.22 1053.44 L 1375.46 1076.19 M 1402.34 1040 L 1412.68 1077.22 M 1414.75 1040 L 1420.95 1060.68 L 1425.09 1078.25 V 1113.41" stroke-width="2.01"/>
<path d="M 1379.08 1046.72 H 1399.76" stroke-width="3.07"/>
</svg>
</body></html>
